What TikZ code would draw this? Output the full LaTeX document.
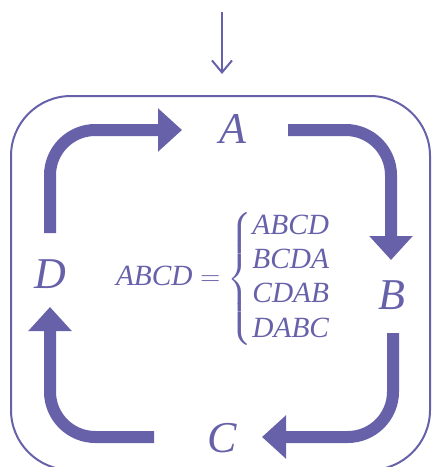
\documentclass[tikz,border=0pt]{standalone}
\usepackage{amsmath}
\usepackage{fontspec}
\setmainfont{Liberation Serif}
\usetikzlibrary{arrows.meta}
\definecolor{pur}{RGB}{103,97,170}
\tikzset{
  big/.style={line width=9pt, draw=pur, rounded corners=34pt, -{Triangle[length=18pt,width=31.5pt]}},
  lbl/.style={text=pur, inner sep=0pt, font=\fontsize{33}{36}\selectfont\itshape},
  frame/.style={draw=pur, line width=1.5pt, rounded corners=45pt},
  thin/.style={draw=pur, line width=1.5pt, -{Straight Barb[length=9pt,width=15pt,line width=1.5pt]}}
}
\begin{document}
\begin{tikzpicture}[x=0.75pt,y=-0.75pt]
\useasboundingbox (0,0) rectangle (432,467);
\draw[frame] (11,96) rectangle (430,470);
\coordinate (top) at (222,12);
\coordinate (topend) at (222,74);
\draw[thin] (top) -- (topend);
\node[lbl] (A) at (233,129) {A};
\node[lbl] (B) at (392,295) {B};
\node[lbl] (C) at (222,438) {C};
\node[lbl] (D) at (50,274) {D};
\node[text=pur, inner sep=0pt, font=\fontsize{22}{21.4}\selectfont] (eq) at (238,279)
  {$\textit{ABCD} = \begin{cases}\textit{ABCD}\\ \textit{BCDA}\\ \textit{CDAB}\\ \textit{DABC}\end{cases}$};
\coordinate (d1) at (50,233);
\coordinate (a1) at (182,130);
\coordinate (a2) at (288,130);
\coordinate (b1) at (391,260);
\coordinate (b2) at (393,333);
\coordinate (c1) at (262,437);
\coordinate (c2) at (154,437);
\coordinate (d2) at (50,307);
\draw[big] (d1) -- (d1 |- a1) -- (a1);
\draw[big] (a2) -- (b1 |- a2) -- (b1);
\draw[big] (b2) -- (b2 |- c1) -- (c1);
\draw[big] (c2) -- (d2 |- c2) -- (d2);
\end{tikzpicture}
\end{document}
